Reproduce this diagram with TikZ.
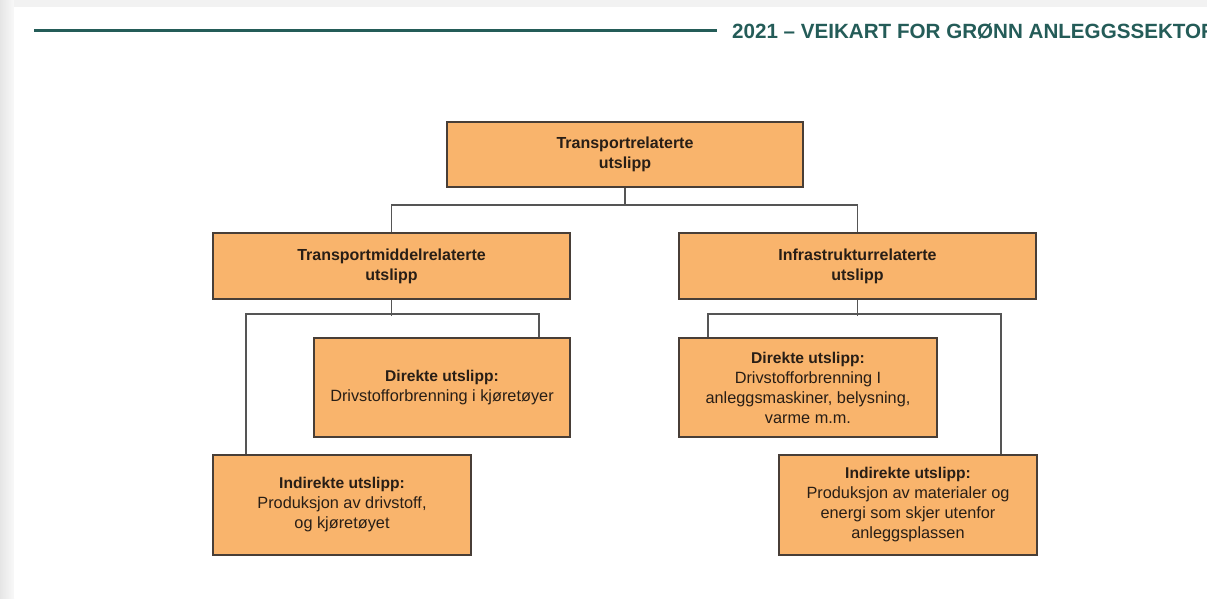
\documentclass[tikz,border=0pt]{standalone}
\usepackage{fontspec}
\setmainfont{Liberation Sans}
\begin{document}
\begin{tikzpicture}[x=1pt,y=-1pt,
  boxfill/.style={fill={rgb,255:red,249;green,180;blue,108}},
  orgbox/.style={boxfill, draw={rgb,255:red,72;green,62;blue,55}, line width=1.5pt,
    inner sep=0pt, align=center, text={rgb,255:red,40;green,30;blue,22}},
  headtxt/.style={font=\bfseries\fontsize{16}{20}\selectfont},
  bodytxt/.style={font=\fontsize{16.3}{20}\selectfont},
  link/.style={draw={rgb,255:red,85;green,85;blue,85}, line width=1.9pt},
]
% page and its shadowed margin
\useasboundingbox (0,0) rectangle (1207,598);
\clip (0,0) rectangle (1207,598);
\fill[gray!10] (0,0) rectangle (1207,598);
\shade[left color=gray!20, right color=gray!5] (0,0) rectangle (14,598);
\fill[white] (14,7) rectangle (1207,598);

% running header (runs past the page edge)
\definecolor{headteal}{RGB}{36,92,88}
\coordinate (hl) at (34,30.8);
\coordinate (hr) at (717,30.8);
\draw[headteal, line width=3pt] (hl) -- (hr);
\node[anchor=base west, inner sep=0pt, text=headteal,
  font=\bfseries\fontsize{20.6}{24}\selectfont] (header) at (732,38.3)
  {2021 – VEIKART FOR GRØNN ANLEGGSSEKTOR};

% boxes
\node[orgbox, headtxt, minimum width=356pt, minimum height=65pt] (top) at (625,154.5)
  {Transportrelaterte\\utslipp};
\node[orgbox, headtxt, minimum width=357pt, minimum height=66pt] (tm) at (391.5,266)
  {Transportmiddelrelaterte\\utslipp};
\node[orgbox, headtxt, minimum width=357pt, minimum height=66pt] (infra) at (857.5,266)
  {Infrastrukturrelaterte\\utslipp};

\node[orgbox, bodytxt, minimum width=256pt, minimum height=99pt] (dirL) at (442,387.5)
  {{\bfseries\fontsize{15.6}{20}\selectfont Direkte utslipp:}\\Drivstofforbrenning i kjøretøyer};
\node[orgbox, bodytxt, minimum width=258pt, minimum height=100pt] (indL) at (342,505)
  {{\bfseries\fontsize{15.6}{20}\selectfont Indirekte utslipp:}\\Produksjon av drivstoff,\\og kjøretøyet};
\node[orgbox, bodytxt, minimum width=258pt, minimum height=99pt] (dirR) at (808,387.5)
  {{\bfseries\fontsize{15.6}{20}\selectfont Direkte utslipp:}\\Drivstofforbrenning I\\anleggsmaskiner, belysning,\\varme m.m.};
\node[orgbox, bodytxt, minimum width=258pt, minimum height=100pt] (indR) at (908,505)
  {{\bfseries\fontsize{15.6}{20}\selectfont Indirekte utslipp:}\\Produksjon av materialer og\\energi som skjer utenfor\\anleggsplassen};

% connectors
\draw[link] (tm.north) -- ++(0,-27) coordinate (bus) -| (infra.north);
\draw[link] (top.south) -- (top.south |- bus);

\draw[link] ([xshift=34pt]indL.north west) -- ++(0,-140) -| ([xshift=226pt]dirL.north west);
\draw[link] (tm.south) -- ++(0,16);

\draw[link] ([xshift=30pt]dirR.north west) -- ++(0,-23) -| ([xshift=223pt]indR.north west);
\draw[link] (infra.south) -- ++(0,16);
\end{tikzpicture}
\end{document}
